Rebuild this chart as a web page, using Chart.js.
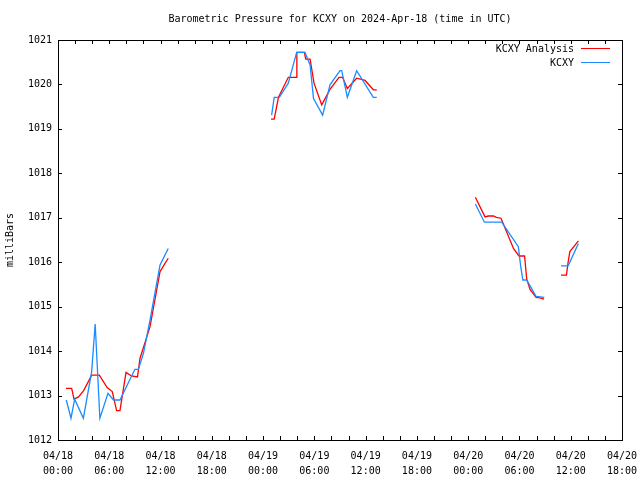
<!DOCTYPE html>
<html>
<head>
<meta charset="utf-8">
<script src="https://cdn.jsdelivr.net/npm/chart.js@4"></script>
<style>
  body { margin: 0; background: #fff; }
  #wrap { width: 640px; height: 480px; }
</style>
</head>
<body>
<div id="wrap"><canvas id="pressure" width="640" height="480"></canvas></div>
<script>
// hours since 04/18 00:00 UTC, null = gap between data runs
const analysisHours = [0.94, 1.6, 1.87, 2.4, 3.0, 3.94, 4.84, 5.75, 6.35, 6.86, 7.25, 7.96, 8.6, 9.3, 9.6, 10.77, 11.94, 12.9,
    20,
    24.93, 25.3, 25.8, 26.95, 27.9, 27.95, 28.83, 28.99, 29.5, 29.96, 30.86, 31.83, 32.88, 33.3, 33.86, 34.95, 35.93, 36.9, 37.3,
    44,
    48.84, 49.97, 50.36, 50.95, 51.3, 51.84, 53.3, 53.95, 54.6, 54.85, 55.24, 55.94, 56.4, 56.87,
    58,
    58.86, 59.5, 59.7, 59.9, 60.9];
const analysisValues = [1013.16, 1013.16, 1012.92, 1012.97, 1013.11, 1013.46, 1013.46, 1013.18, 1013.09, 1012.66, 1012.66, 1013.52, 1013.44, 1013.42, 1013.84, 1014.55, 1015.79, 1016.09,
    null,
    1019.22, 1019.22, 1019.71, 1020.16, 1020.16, 1020.72, 1020.72, 1020.57, 1020.57, 1020.03, 1019.54, 1019.89, 1020.16, 1020.16, 1019.91, 1020.14, 1020.09, 1019.88, 1019.88,
    null,
    1017.46, 1017.02, 1017.04, 1017.04, 1017.01, 1016.99, 1016.31, 1016.14, 1016.14, 1015.62, 1015.39, 1015.21, 1015.2, 1015.17,
    null,
    1015.71, 1015.71, 1016.01, 1016.24, 1016.48];

const obsHours = [0.97, 1.52, 1.95, 2.97, 3.94, 4.35, 4.9, 5.85, 6.5, 7.25, 9.0, 9.4, 10.0, 10.77, 11.94, 12.9,
    20,
    25.0, 25.3, 25.9, 26.95, 27.93, 28.9, 29.5, 29.9, 30.97, 31.83, 33.0, 33.2, 33.86, 34.95, 36.9, 37.3,
    44,
    48.84, 49.9, 51.92, 53.87, 54.15, 54.4, 54.85, 55.94, 56.9,
    58,
    58.86, 59.7, 60.9];
const obsValues = [1012.9, 1012.49, 1012.92, 1012.49, 1013.54, 1014.61, 1012.49, 1013.05, 1012.9, 1012.9, 1013.59, 1013.59, 1013.95, 1014.7, 1015.94, 1016.31,
    null,
    1019.31, 1019.71, 1019.71, 1020.03, 1020.72, 1020.72, 1020.44, 1019.68, 1019.31, 1019.99, 1020.31, 1020.31, 1019.71, 1020.31, 1019.71, 1019.71,
    null,
    1017.31, 1016.9, 1016.9, 1016.35, 1015.9, 1015.6, 1015.6, 1015.23, 1015.21,
    null,
    1015.92, 1015.92, 1016.42];

const seriesNames = ['KCXY Analysis', 'KCXY'];
const seriesColors = ['#ff0000', '#1a8cff'];
const titleText = 'Barometric Pressure for KCXY on 2024-Apr-18 (time in UTC)';
const yTitle = 'milliBars';
const startDay = 18;

const FONT_FAMILY = '"DejaVu Sans Mono", "Liberation Mono", monospace';
const FONT = '10px ' + FONT_FAMILY;

function toPoints(hours, values) {
    return hours.map((h, i) => ({ x: h, y: values[i] }));
}

function timeLabel(v) {
    if (v % 6 !== 0) return '';
    const day = startDay + Math.floor(v / 24);
    const hour = v % 24;
    return ['04/' + day, (hour < 10 ? '0' : '') + hour + ':00'];
}

// gnuplot style frame, inward ticks, title and legend
const gnuFrame = {
    id: 'gnuFrame',
    afterDraw(chart) {
        const c = chart.ctx;
        const a = chart.chartArea;
        const xs = chart.scales.x;
        const ys = chart.scales.y;
        c.save();
        c.strokeStyle = '#000';
        c.lineWidth = 1;
        c.strokeRect(Math.round(a.left) + 0.5, Math.round(a.top) + 0.5, Math.round(a.right - a.left), Math.round(a.bottom - a.top));

        c.beginPath();
        for (let h = 2; h < 66; h += 2) {
            const px = Math.round(xs.getPixelForValue(h)) + 0.5;
            c.moveTo(px, a.bottom);
            c.lineTo(px, a.bottom - 4);
            c.moveTo(px, a.top);
            c.lineTo(px, a.top + 4);
        }
        for (let p = 1013; p < 1021; p++) {
            const py = Math.round(ys.getPixelForValue(p)) + 0.5;
            c.moveTo(a.left, py);
            c.lineTo(a.left + 4, py);
            c.moveTo(a.right, py);
            c.lineTo(a.right - 4, py);
        }
        c.stroke();

        c.fillStyle = '#000';
        c.font = FONT;
        c.textAlign = 'center';
        c.textBaseline = 'middle';
        c.fillText(titleText, (a.left + a.right) / 2, 19);

        c.textAlign = 'right';
        seriesNames.forEach((name, i) => {
            const y = 49 + i * 14;
            c.fillStyle = '#000';
            c.fillText(name, 574, y);
            c.strokeStyle = seriesColors[i];
            c.beginPath();
            c.moveTo(581, y - 0.5);
            c.lineTo(610, y - 0.5);
            c.stroke();
        });
        c.restore();
    }
};

const ctx = document.getElementById('pressure').getContext('2d');

const pressureChart = new Chart(ctx, {
    type: 'line',
    data: {
        datasets: [{
            label: seriesNames[0],
            data: toPoints(analysisHours, analysisValues),
            borderColor: seriesColors[0],
            borderWidth: 1.3,
            pointRadius: 0,
            tension: 0,
            spanGaps: false,
            order: 2
        }, {
            label: seriesNames[1],
            data: toPoints(obsHours, obsValues),
            borderColor: seriesColors[1],
            borderWidth: 1.3,
            pointRadius: 0,
            tension: 0,
            spanGaps: false,
            order: 1
        }]
    },
    options: {
        responsive: false,
        animation: false,
        layout: { padding: { top: 40, right: 18, left: 0, bottom: 0 } },
        plugins: {
            legend: { display: false },
            title: { display: false },
            tooltip: { enabled: false }
        },
        scales: {
            x: {
                type: 'linear',
                min: 0,
                max: 66,
                grid: { display: false, tickLength: 0 },
                border: { display: false },
                afterFit(scale) {
                    scale.height = 40;
                    scale.paddingLeft = 0;
                    scale.paddingRight = 0;
                },
                ticks: {
                    stepSize: 2,
                    autoSkip: false,
                    maxRotation: 0,
                    padding: 9,
                    color: '#000',
                    font: { family: FONT_FAMILY, size: 10, lineHeight: 1.5 },
                    callback: (v) => timeLabel(v)
                }
            },
            y: {
                min: 1012,
                max: 1021,
                grid: { display: false, tickLength: 0 },
                border: { display: false },
                afterFit(scale) { scale.width = 58; },
                title: {
                    display: true,
                    text: yTitle,
                    color: '#000',
                    font: { family: FONT_FAMILY, size: 10 }
                },
                ticks: {
                    stepSize: 1,
                    padding: 6,
                    color: '#000',
                    font: { family: FONT_FAMILY, size: 10 },
                    callback: (v) => String(v)
                }
            }
        }
    },
    plugins: [gnuFrame]
});
</script>
</body>
</html>
